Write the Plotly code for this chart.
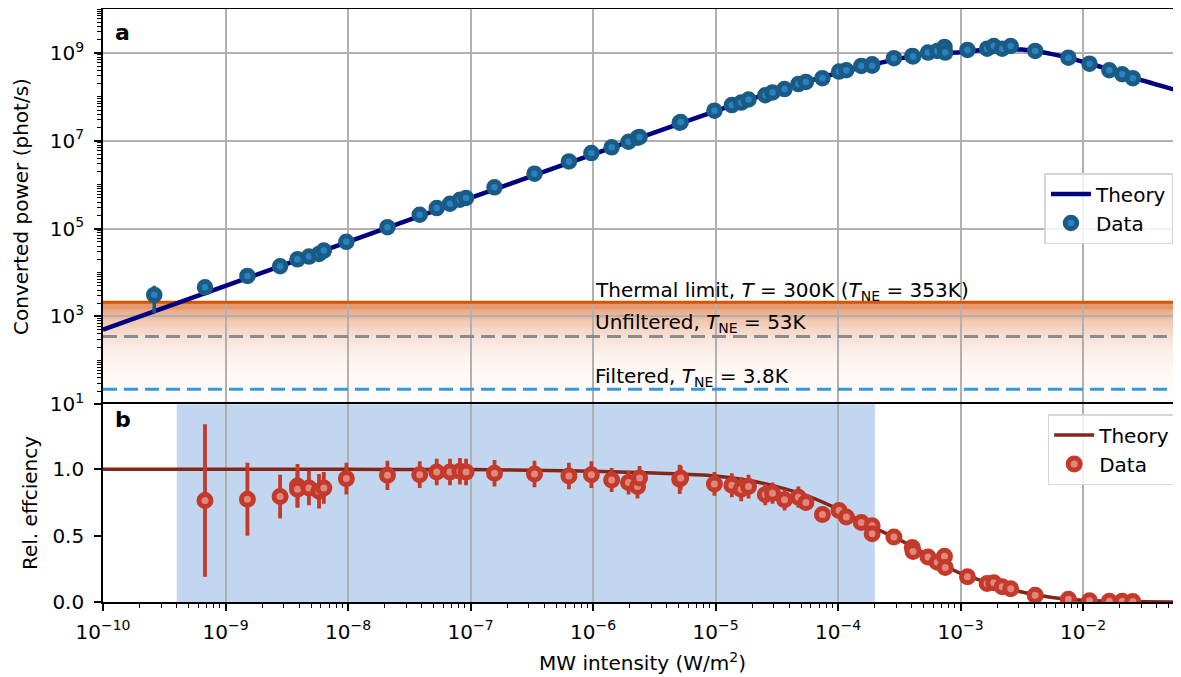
import math
import plotly.graph_objects as go

# ---------------- data ----------------
# Panel a: converted power vs MW intensity
top_I = [2.62e-10, 6.8e-10, 1.51e-9, 2.79e-9, 3.87e-9, 4.8e-9, 5.8e-9, 6.35e-9, 9.7e-9,
         2.1e-8, 3.85e-8, 5.3e-8, 6.8e-8, 8.2e-8, 9.2e-8, 1.57e-7, 3.33e-7, 6.36e-7, 9.7e-7,
         1.42e-6, 1.95e-6, 2.31e-6, 2.4e-6, 5.1e-6, 5.2e-6, 9.8e-6, 1.36e-5, 1.62e-5, 1.86e-5,
         2.55e-5, 2.92e-5, 3.66e-5, 4.75e-5, 5.47e-5, 7.46e-5, 1.02e-4, 1.17e-4, 1.55e-4,
         1.9e-4, 1.9e-4, 2.86e-4, 4.04e-4, 4.1e-4, 5.43e-4, 6.46e-4, 7.4e-4, 7.5e-4,
         1.14e-3, 1.65e-3, 1.87e-3, 2.19e-3, 2.57e-3, 4.07e-3, 7.6e-3, 1.13e-2, 1.64e-2,
         2.09e-2, 2.55e-2]
top_P = [3.1e3, 4.6e3, 8.4e3, 1.39e4, 2.0e4, 2.31e4, 2.66e4, 3.16e4, 5.0e4,
         1.08e5, 2.07e5, 2.94e5, 3.69e5, 4.55e5, 4.98e5, 8.7e5, 1.78e6, 3.39e6, 5.25e6,
         7.1e6, 9.5e6, 1.17e7, 1.22e7, 2.58e7, 2.66e7, 4.85e7, 6.5e7, 7.4e7, 8.7e7,
         1.09e8, 1.26e8, 1.5e8, 1.95e8, 2.19e8, 2.66e8, 3.76e8, 4.04e8, 5.07e8,
         5.5e8, 5.1e8, 7.6e8, 8.55e8, 8.3e8, 1.02e9, 1.11e9, 1.37e9, 1.02e9,
         1.17e9, 1.25e9, 1.44e9, 1.25e9, 1.44e9, 1.11e9, 7.8e8, 5.7e8, 4.04e8,
         3.27e8, 2.66e8]
top_err = [1.9e3, 0, 0, 0, 0, 0, 0, 0, 0,
           0, 0, 0, 0, 0, 0, 0, 0, 0, 0,
           0, 0, 0, 0, 0, 0, 0, 0, 0, 0,
           0, 0, 0, 0, 0, 0, 0, 0, 0,
           0, 0, 0, 0, 0, 0, 0, 0, 0,
           0, 0, 0, 0, 0, 0, 0, 0, 0,
           0, 0]

# Panel b: relative efficiency
bot_I = [6.8e-10, 1.51e-9, 2.79e-9, 3.87e-9, 3.87e-9, 4.8e-9, 5.8e-9, 6.35e-9, 9.7e-9,
         2.1e-8, 3.85e-8, 5.3e-8, 6.8e-8, 8.2e-8, 9.2e-8, 1.57e-7, 3.33e-7, 6.36e-7, 9.7e-7,
         1.42e-6, 1.95e-6, 2.31e-6, 2.4e-6, 5.1e-6, 5.2e-6, 9.8e-6, 1.36e-5, 1.62e-5, 1.86e-5,
         2.55e-5, 2.92e-5, 3.66e-5, 4.75e-5, 5.47e-5, 7.46e-5, 1.02e-4, 1.17e-4, 1.55e-4,
         1.9e-4, 1.9e-4, 2.86e-4, 4.04e-4, 4.1e-4, 5.43e-4, 6.46e-4, 7.4e-4, 7.5e-4,
         1.14e-3, 1.65e-3, 1.87e-3, 2.19e-3, 2.57e-3, 4.07e-3, 7.6e-3, 1.13e-2, 1.64e-2,
         2.09e-2, 2.55e-2]
bot_eff = [0.765, 0.775, 0.795, 0.875, 0.85, 0.86, 0.835, 0.86, 0.93,
           0.955, 0.96, 0.98, 0.98, 0.985, 0.98, 0.97, 0.965, 0.95, 0.96,
           0.92, 0.90, 0.87, 0.935, 0.925, 0.935, 0.89, 0.88, 0.85, 0.87,
           0.81, 0.82, 0.77, 0.79, 0.75, 0.66, 0.69, 0.64, 0.60,
           0.575, 0.515, 0.49, 0.41, 0.38, 0.34, 0.30, 0.345, 0.26,
           0.19, 0.14, 0.145, 0.115, 0.10, 0.05, 0.02, 0.01, 0.005,
           0.005, 0.003]
bot_err = [0.575, 0.275, 0.165, 0.165, 0.13, 0.13, 0.13, 0.12, 0.12,
           0.11, 0.1, 0.1, 0.1, 0.1, 0.1, 0.1, 0.1, 0.1, 0.1,
           0.09, 0.09, 0.09, 0.09, 0.11, 0.09, 0.09, 0.09, 0.09, 0.09,
           0.08, 0.08, 0.08, 0.08, 0.06, 0.05, 0.05, 0.03, 0.02,
           0.02, 0.02, 0.02, 0.02, 0.02, 0.02, 0.02, 0.02, 0.02,
           0.01, 0.01, 0.01, 0.01, 0.01, 0.01, 0.01, 0.01, 0.01,
           0.01, 0.01]

# Theory curves
theory_I = [1e-10, 1e-9, 1e-8, 1e-7, 3.16e-7, 1e-6, 3.16e-6, 1e-5, 1.78e-5, 3.16e-5,
            5.62e-5, 1e-4, 1.78e-4, 3.16e-4, 5.62e-4, 1e-3, 1.78e-3, 3.16e-3, 5.62e-3,
            1e-2, 1.78e-2, 3.16e-2, 6.31e-2]
theory_P = [5.0e2, 5.0e3, 5.0e4, 4.99e5, 1.572e6, 4.93e6, 1.537e7, 4.75e7, 8.18e7, 1.375e8,
            2.25e8, 3.5e8, 5.16e8, 7.43e8, 9.6e8, 1.04e9, 1.22e9, 1.19e9, 9.4e8,
            6.3e8, 3.9e8, 2.3e8, 1.33e8]
theory_eff = [1.0, 1.0, 1.0, 0.998, 0.994, 0.985, 0.972, 0.95, 0.92, 0.87,
              0.80, 0.70, 0.58, 0.47, 0.345, 0.215, 0.14, 0.075, 0.034,
              0.013, 0.0044, 0.0015, 0.0004]

# Noise levels (phot/s) and shaded intensity window (W/m^2)
thermal_limit = 2.1e3
unfiltered_level = 3.5e2
filtered_level = 2.2e1
shade_lo, shade_hi = 4e-10, 2e-4

x_decades = [-10, -9, -8, -7, -6, -5, -4, -3, -2]
y_decades = [1, 3, 5, 7, 9]
X_RANGE = [-10, -1.2]
Y_RANGE = [1, 10]

# ---------------- figure ----------------
FONT = "DejaVu Sans"
BLUE_EDGE, BLUE_FACE = "#1a5b85", "#2a80c0"
RED_EDGE, RED_FACE = "#c43a2a", "#e0877e"
GRID = "#b0b0b0"

fig = go.Figure()

# noise level lines (panel a)
xline = [10 ** X_RANGE[0], 10 ** X_RANGE[1]]
fig.add_trace(go.Scatter(x=xline, y=[thermal_limit] * 2, mode="lines",
                         line=dict(color="#d45500", width=3), showlegend=False,
                         hoverinfo="skip", xaxis="x", yaxis="y"))
fig.add_trace(go.Scatter(x=xline, y=[unfiltered_level] * 2, mode="lines",
                         line=dict(color="#878c94", width=3, dash="14px,7px"), showlegend=False,
                         hoverinfo="skip", xaxis="x", yaxis="y"))
fig.add_trace(go.Scatter(x=xline, y=[filtered_level] * 2, mode="lines",
                         line=dict(color="#3498db", width=3, dash="14px,7px"), showlegend=False,
                         hoverinfo="skip", xaxis="x", yaxis="y"))

# theory + data (panel a)
fig.add_trace(go.Scatter(x=theory_I, y=theory_P, mode="lines", name="Theory",
                         line=dict(color="#000080", width=4.5, shape="spline"),
                         xaxis="x", yaxis="y", legend="legend"))
fig.add_trace(go.Scatter(x=top_I, y=top_P, mode="markers", name="Data",
                         marker=dict(size=11.5, color=BLUE_FACE, line=dict(color=BLUE_EDGE, width=5)),
                         error_y=dict(type="data", array=top_err, color=BLUE_EDGE, thickness=3.5, width=0),
                         xaxis="x", yaxis="y", legend="legend"))

# theory + data (panel b)
fig.add_trace(go.Scatter(x=theory_I, y=theory_eff, mode="lines", name="Theory",
                         line=dict(color="#82261a", width=3.5, shape="spline"),
                         xaxis="x2", yaxis="y2", legend="legend2"))
fig.add_trace(go.Scatter(x=bot_I, y=bot_eff, mode="markers", name="Data",
                         marker=dict(size=12, color=RED_FACE, line=dict(color=RED_EDGE, width=5)),
                         error_y=dict(type="data", array=bot_err, color=RED_EDGE, thickness=3.8, width=0),
                         xaxis="x2", yaxis="y2", legend="legend2"))


def ydom(v):
    """fraction of the top panel's height for a value on its log axis"""
    return (math.log10(v) - Y_RANGE[0]) / (Y_RANGE[1] - Y_RANGE[0])


def xdom(v):
    return (math.log10(v) - X_RANGE[0]) / (X_RANGE[1] - X_RANGE[0])


# gradient band below the thermal limit
y_top = ydom(thermal_limit)
y_bot = 0.0
N = 90
shapes = []
for i in range(N):
    f0 = i / N
    f1 = (i + 1) / N
    fm = (f0 + f1) / 2
    alpha = 0.78 * math.exp(-4.5 * fm) + 0.03 * (1 - fm)
    shapes.append(dict(type="rect", xref="x domain", yref="y domain", x0=0, x1=1,
                       y0=y_top - f1 * (y_top - y_bot), y1=y_top - f0 * (y_top - y_bot),
                       fillcolor=f"rgba(214,90,20,{alpha:.4f})", line=dict(width=0), layer="below"))
# shaded window in panel b
shapes.append(dict(type="rect", xref="x2 domain", yref="y2 domain",
                   x0=xdom(shade_lo), x1=xdom(shade_hi), y0=0, y1=1,
                   fillcolor="#c2d7ef", line=dict(width=0), layer="below"))

minor_x = [k * 10.0 ** n for n in range(-10, -1) for k in range(2, 10)] + [k * 1e-2 for k in range(2, 10)]
minor_y = [k * 10.0 ** n for n in range(1, 10) for k in range(2, 10)] + [10.0 ** n for n in (2, 4, 6, 8, 10)]

tickfont = dict(family=FONT, size=20, color="black")
axis_common = dict(showline=True, linecolor="black", linewidth=1.6, zeroline=False)

# the page body adds an 8px margin: size the figure so the plot lands where the reference has it
fig.update_layout(
    width=1173, height=669,
    margin=dict(l=95, r=0, t=1, b=75, autoexpand=False),
    paper_bgcolor="white", plot_bgcolor="rgba(0,0,0,0)",
    font=dict(family=FONT, size=20, color="black"),
    shapes=shapes,
    xaxis=dict(type="log", range=X_RANGE, domain=[0, 1], anchor="y", matches="x2", side="top",
               showticklabels=False, ticks="", showgrid=True, gridcolor=GRID, gridwidth=1.5,
               tickvals=[10.0 ** d for d in x_decades], mirror=False, **axis_common),
    yaxis=dict(type="log", range=Y_RANGE, domain=[1 / 3, 1], anchor="x",
               tickvals=[10.0 ** d for d in y_decades],
               ticktext=[f"10<sup>{d}</sup>" for d in y_decades],
               ticks="outside", ticklen=7, tickwidth=1.5, tickcolor="black",
               ticklabelstandoff=6, tickfont=tickfont,
               minor=dict(tickvals=minor_y, ticks="outside", ticklen=4, tickwidth=1.1,
                          tickcolor="black", showgrid=False),
               showgrid=True, gridcolor=GRID, gridwidth=1.5, **axis_common),
    xaxis2=dict(type="log", range=X_RANGE, domain=[0, 1], anchor="y2",
                tickvals=[10.0 ** d for d in x_decades],
                ticktext=[f"10<sup>\u2212{-d}</sup>" for d in x_decades],
                ticks="outside", ticklen=7, tickwidth=1.5, tickcolor="black",
                ticklabelstandoff=4, tickfont=tickfont,
                minor=dict(tickvals=minor_x, ticks="outside", ticklen=4, tickwidth=1.1,
                           tickcolor="black", showgrid=False),
                showgrid=True, gridcolor=GRID, gridwidth=1.5, mirror=True, **axis_common),
    yaxis2=dict(range=[0, 1.49], domain=[0, 1 / 3], anchor="x2",
                tickvals=[0, 0.5, 1.0], ticktext=["0.0", "0.5", "1.0"],
                ticks="outside", ticklen=7, tickwidth=1.5, tickcolor="black",
                ticklabelstandoff=6, tickfont=tickfont, showgrid=False, **axis_common),
    legend=dict(x=0.993, y=0.7234, xanchor="right", yanchor="top",
                bgcolor="rgba(255,255,255,0.85)", bordercolor="#d6d6d6", borderwidth=1.5,
                font=dict(family=FONT, size=20), tracegroupgap=0, itemwidth=40),
    legend2=dict(x=0.996, y=0.317, xanchor="right", yanchor="top",
                 bgcolor="rgba(255,255,255,0.85)", bordercolor="#d6d6d6", borderwidth=1.5,
                 font=dict(family=FONT, size=20), tracegroupgap=0, itemwidth=40),
    showlegend=True,
)

ann = []
ann.append(dict(text="<b>a</b>", xref="paper", yref="paper", x=0.0093, y=0.9604,
                xanchor="left", yanchor="middle", showarrow=False, font=dict(size=22)))
ann.append(dict(text="<b>b</b>", xref="paper", yref="paper", x=0.0093, y=0.307,
                xanchor="left", yanchor="middle", showarrow=False, font=dict(size=22)))
ann.append(dict(text="Converted power (phot/s)", xref="paper", yref="paper", x=-0.0756, y=0.667,
                xanchor="center", yanchor="middle", textangle=-90, showarrow=False))
ann.append(dict(text="Rel. effciency", xref="paper", yref="paper", x=-0.0677, y=0.167,
                xanchor="center", yanchor="middle", textangle=-90, showarrow=False))
ann.append(dict(text="MW intensity (W/m<sup>2</sup>)", xref="paper", yref="paper", x=0.5, y=-0.101,
                xanchor="center", yanchor="middle", showarrow=False))
ann.append(dict(text="Thermal limit, <i>T</i> = 300K (<i>T</i><sub>NE</sub> = 353K)",
                xref="x", yref="y", x=-6.0, y=3.585, xanchor="left", yanchor="middle", showarrow=False))
ann.append(dict(text="Unfiltered, <i>T</i><sub>NE</sub> = 53K",
                xref="x", yref="y", x=-6.0, y=2.857, xanchor="left", yanchor="middle", showarrow=False))
ann.append(dict(text="Filtered, <i>T</i><sub>NE</sub> = 3.8K",
                xref="x", yref="y", x=-6.0, y=1.633, xanchor="left", yanchor="middle", showarrow=False))
fig.update_layout(annotations=ann)

fig.write_html("out.html")
